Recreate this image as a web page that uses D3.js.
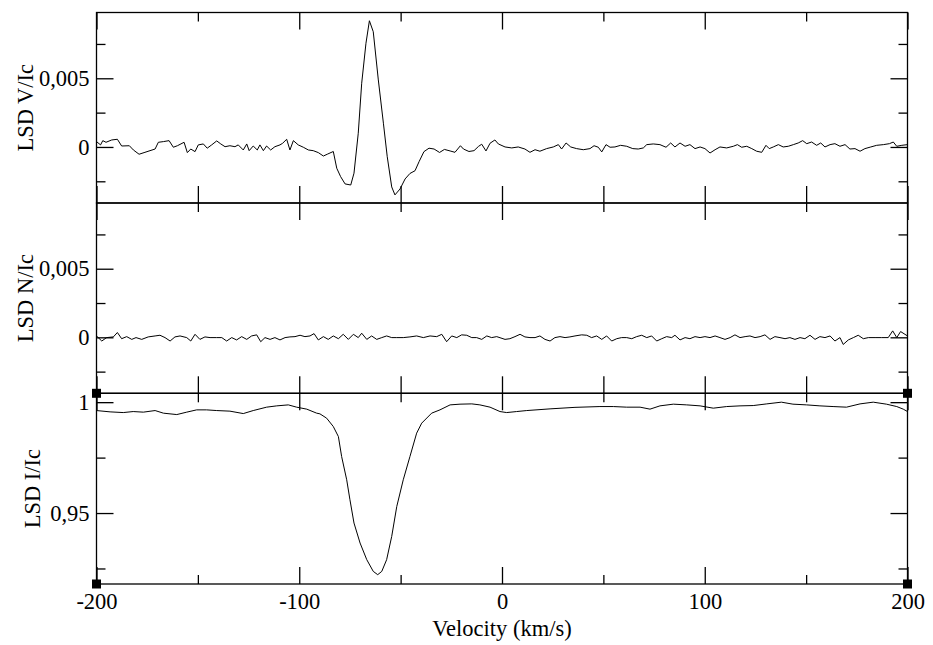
<!DOCTYPE html>
<html>
<head>
<meta charset="utf-8">
<script src="https://cdn.jsdelivr.net/npm/d3@7"></script>
<style>
body { margin: 0; background: #fff; }
text { font-family: "Liberation Serif", "Times New Roman", serif; }
</style>
</head>
<body>
<svg id="chart" width="933" height="645"></svg>
<script>
// LSD profiles, [velocity (km/s), value]
const vProfile = [
  [-200, 0.00039], [-198.0, 0.00015], [-196.9, 0.00046], [-195.3, 0.00034], [-192.5, 0.00051], [-189.7, 0.00056],
  [-187.6, 0.00007], [-183.8, 0.00009], [-181.8, -0.00022], [-179.0, -0.00053], [-176.1, -0.00039], [-173.6, -0.00027],
  [-171.1, -0.00015], [-169.5, 0.00034], [-167.0, 0.00039], [-164.2, 0.00046], [-162.1, -0.00002], [-160.1, 0.00009],
  [-156.8, 0.00034], [-155.2, -0.00041], [-153.5, -0.00015], [-151.4, -0.00034], [-149.8, 0.00015], [-147.3, 0.00022],
  [-145.4, -0.00009], [-143.2, 0.00015], [-140.7, 0.00044], [-138.7, 0.00022], [-136.6, 0.00002], [-134.2, 0.00009],
  [-131.7, 0.00002], [-130.1, 0.00015], [-127.6, -0.00022], [-125.9, 0.00022], [-124.7, -0.00027], [-122.7, 0.00007],
  [-120.7, -0.00022], [-119.4, 0.00015], [-117.7, -0.00027], [-116.1, 0.00007], [-114.1, -0.00022], [-112.0, 0.00002],
  [-109.5, 0.00015], [-108.2, 0.00027], [-106.2, 0.00056], [-104.6, -0.00022], [-102.9, 0.00046], [-100.5, 0.00015],
  [-98.0, -0.00002], [-95.5, -0.00022], [-93.1, -0.00027], [-90.6, -0.00041], [-88.1, -0.00066], [-86.2, -0.00053],
  [-83.2, -0.00033], [-81.5, -0.00155], [-79.6, -0.00216], [-77.4, -0.00269], [-74.6, -0.00277], [-73.0, -0.00191],
  [-70.9, 0.00100], [-69.2, 0.00464], [-67.1, 0.00755], [-65.4, 0.00919], [-63.5, 0.00839], [-61.0, 0.00488],
  [-58.5, 0.00173], [-56.6, -0.00071], [-54.4, -0.00291], [-52.8, -0.00349], [-50.3, -0.00306], [-47.8, -0.00233],
  [-45.4, -0.00193], [-42.9, -0.00173], [-40.9, -0.00107], [-38.5, -0.00034], [-36.0, -0.00009], [-33.5, -0.00015],
  [-30.8, -0.00040], [-28.4, -0.00018], [-25.6, -0.00029], [-23.2, -0.00039], [-20.5, 0.00009], [-19.0, -0.00015],
  [-16.3, -0.00033], [-13.8, -0.00027], [-11.6, 0.00004], [-10.0, 0.00020], [-7.9, -0.00029], [-5.9, 0.00027],
  [-3.5, 0.00051], [-1.8, 0.00022], [1.5, 0], [4.8, -0.00007], [8.0, 0], [11.3, -0.00015],
  [13.8, -0.00039], [16.3, -0.00020], [18.7, -0.00031], [22.0, -0.00012], [25.3, 0], [27.8, 0.00017],
  [29.4, -0.00015], [31.6, 0.00029], [33.9, 0], [36.8, -0.00012], [40.1, -0.00020], [43.4, -0.00012],
  [45.4, 0.00009], [47.5, -0.00002], [49.2, -0.00036], [51.3, 0.00017], [53.3, -0.00002], [55.7, 0],
  [58.5, 0.00012], [61.5, 0.00005], [64.5, -0.00012], [67.2, -0.00015], [69.7, -0.00007], [71.4, 0.00017],
  [74.6, 0.00022], [77.9, 0.00017], [80.9, -0.00002], [83.2, 0.00029], [85.3, 0], [87.8, 0.00029],
  [90.3, 0.00005], [92.7, 0.00017], [95.2, -0.00012], [97.7, 0], [100.1, -0.00012], [102.6, -0.00044],
  [105.1, -0.00020], [107.5, 0], [110.8, -0.00007], [114.1, 0.00005], [116.1, 0.00017], [118.2, -0.00002],
  [120.7, 0.00005], [123.2, -0.00012], [125.6, -0.00031], [128.1, -0.00039], [130.2, 0.00012], [131.8, -0.00012],
  [133.8, 0], [136.3, 0.00017], [138.7, 0], [141.2, 0.00005], [143.7, 0.00017], [146.1, 0.00029],
  [148.3, 0.00046], [150.3, 0.00024], [152.7, 0.00036], [155.2, 0.00012], [157.2, 0.00029], [159.3, 0],
  [161.8, 0.00017], [164.2, 0.00024], [166.7, 0.00005], [169.2, 0.00017], [171.6, -0.00015], [174.1, -0.00012],
  [176.6, -0.00031], [179.0, -0.00012], [181.9, 0], [184.8, 0.00012], [188.1, 0.00017], [191.1, 0.00024],
  [193.0, 0.00036], [194.7, 0.00005], [197.2, 0.00012], [200, 0.00017]
];

const nProfile = [
  [-200, 0.00010], [-197.4, -0.00027], [-195.0, -0.00002], [-191.7, 0.00003], [-189.7, 0.00035], [-187.6, -0.00010],
  [-185.1, 0.00005], [-182.6, -0.00015], [-180.5, -0.00002], [-177.7, -0.00015], [-174.5, 0.00003], [-171.1, 0.00010],
  [-168.7, 0.00015], [-166.2, -0.00002], [-163.7, -0.00027], [-161.3, 0.00003], [-158.8, 0.00010], [-155.5, -0.00002],
  [-153.5, -0.00027], [-151.4, 0.00022], [-149.0, -0.00015], [-146.5, 0.00003], [-144.0, -0.00002], [-140.7, -0.00002],
  [-138.2, -0.00002], [-135.8, -0.00027], [-133.3, -0.00002], [-130.9, -0.00019], [-128.4, 0.00005], [-125.9, -0.00015],
  [-123.5, 0.00010], [-121.0, 0.00018], [-119.0, -0.00032], [-116.9, -0.00002], [-114.4, -0.00015], [-112.0, -0.00002],
  [-109.5, -0.00019], [-107.0, -0.00002], [-104.6, 0.00003], [-102.1, 0.00005], [-99.6, 0.00015], [-97.2, 0.00005],
  [-94.7, 0.00010], [-92.7, 0.00027], [-90.6, -0.00019], [-88.1, 0.00005], [-85.7, -0.00015], [-83.2, 0.00010],
  [-80.7, -0.00010], [-78.3, 0.00022], [-75.8, -0.00015], [-73.3, 0.00022], [-70.9, -0.00002], [-69.2, 0.00030],
  [-66.7, -0.00015], [-64.3, 0.00010], [-61.8, -0.00015], [-59.3, -0.00002], [-56.9, 0.00010], [-54.4, -0.00002],
  [-51.9, -0.00002], [-48.7, -0.00002], [-45.4, 0.00003], [-42.1, 0.00010], [-38.8, -0.00002], [-35.5, 0.00010],
  [-32.2, 0.00005], [-29.7, 0.00022], [-27.3, -0.00032], [-24.8, 0.00010], [-22.3, -0.00002], [-19.9, 0.00018],
  [-17.4, 0.00015], [-14.9, -0.00002], [-12.5, -0.00002], [-10.0, -0.00015], [-7.5, 0.00010], [-5.1, -0.00002],
  [-2.6, 0.00005], [1.5, -0.00015], [3.9, -0.00010], [6.4, 0.00005], [8.9, 0.00022], [11.3, 0.00003],
  [13.8, -0.00002], [16.3, -0.00002], [18.7, 0.00010], [21.2, -0.00015], [23.7, -0.00027], [26.1, -0.00002],
  [28.6, 0.00005], [31.1, -0.00002], [33.5, 0.00003], [36.0, 0.00010], [39.3, 0.00018], [41.8, 0.00015],
  [44.2, -0.00002], [46.7, 0.00010], [49.2, -0.00015], [51.6, 0.00010], [54.1, -0.00027], [56.6, -0.00010],
  [59.0, -0.00002], [61.5, -0.00002], [64.0, -0.00010], [66.4, 0.00005], [68.9, 0.00015], [71.4, -0.00002],
  [73.8, 0.00010], [76.3, -0.00027], [78.8, -0.00010], [81.2, 0.00005], [83.7, -0.00002], [85.3, 0.00015],
  [87.8, -0.00019], [90.3, -0.00002], [92.7, -0.00010], [95.2, 0.00005], [97.7, -0.00002], [100.1, 0.00005],
  [102.6, -0.00002], [105.1, 0.00010], [107.5, -0.00002], [110.0, -0.00015], [112.5, -0.00002], [114.9, 0.00018],
  [117.4, -0.00002], [119.9, 0.00005], [122.3, 0.00010], [124.8, -0.00002], [127.3, 0.00005], [129.7, 0.00018],
  [132.2, -0.00015], [134.6, 0.00005], [137.1, -0.00002], [139.6, -0.00010], [142.0, -0.00002], [144.5, -0.00015],
  [147.0, -0.00002], [149.4, -0.00010], [151.9, 0.00015], [154.4, -0.00015], [156.8, 0.00005], [159.3, -0.00002],
  [161.8, 0.00010], [164.2, -0.00027], [166.7, -0.00002], [168.3, -0.00052], [170.8, -0.00019], [173.3, -0.00002],
  [175.7, 0.00015], [178.2, -0.00010], [180.7, -0.00002], [184.0, -0.00002], [187.3, -0.00002], [190.5, -0.00002],
  [192.7, 0.00047], [194.7, -0.00002], [196.6, 0.00042], [200, 0.00010]
];

const iProfile = [
  [-200, 0.99622], [-193.3, 0.99563], [-186.8, 0.99531], [-181.9, 0.99577], [-176.9, 0.99550], [-171.1, 0.99622],
  [-167.0, 0.99504], [-160.4, 0.99441], [-155.5, 0.99550], [-150.6, 0.99653], [-145.7, 0.99653], [-140.7, 0.99622],
  [-134.2, 0.99595], [-127.6, 0.99486], [-122.7, 0.99622], [-116.1, 0.99775], [-111.1, 0.99833], [-105.4, 0.99878],
  [-101.3, 0.99775], [-96.3, 0.99685], [-91.4, 0.99504], [-89.8, 0.99473], [-86.5, 0.99279], [-83.2, 0.98901],
  [-80.7, 0.98450], [-79.1, 0.97549], [-76.6, 0.96500], [-75.0, 0.95599], [-73.0, 0.94549], [-70.0, 0.93648],
  [-66.7, 0.92896], [-63.5, 0.92369], [-61.3, 0.92220], [-59.3, 0.92369], [-56.9, 0.92896], [-54.4, 0.93945],
  [-51.9, 0.95297], [-48.7, 0.96500], [-45.4, 0.97549], [-42.1, 0.98603], [-39.6, 0.99054], [-34.7, 0.99504],
  [-30.6, 0.99653], [-25.6, 0.99878], [-20.7, 0.99910], [-14.9, 0.99923], [-10.9, 0.99878], [-5.9, 0.99775],
  [-1.0, 0.99577], [2.3, 0.99531], [7.2, 0.99577], [12.2, 0.99622], [23.7, 0.99698], [36.0, 0.99766],
  [48.3, 0.99802], [54.9, 0.99802], [61.5, 0.99775], [68.1, 0.99775], [73.0, 0.99685], [77.9, 0.99833],
  [84.5, 0.99910], [91.1, 0.99878], [97.7, 0.99833], [104.2, 0.99730], [110.8, 0.99802], [117.4, 0.99833],
  [123.9, 0.99847], [130.6, 0.99923], [137.8, 1.00000], [143.5, 0.99910], [150.2, 0.99878], [156.8, 0.99833],
  [163.3, 0.99802], [169.9, 0.99775], [176.6, 0.99923], [183.1, 1.00000], [189.6, 0.99910], [194.7, 0.99802],
  [197.9, 0.99685], [200, 0.99577]
];

const velTicks = [-200, -100, 0, 100, 200];
const velMinor = [-150, -50, 50, 150];
const stokesTicks = [0, 0.005];
const stokesMinor = [-0.0025, 0.0025, 0.0075];
const intTicks = [0.95, 1];
const intMinor = [0.925, 0.975];

const svg = d3.select('#chart');
const width = +svg.attr('width');

const left = 96.5, right = 907.5;
const majorLen = 17, minorLen = 9;
const fontSize = 22.5;

const x = d3.scaleLinear().domain([-200, 200]).range([left, right]);

// comma as decimal separator, like the original plot
const fmt = d => String(d).replace('.', ',');

const panels = [
  {label: 'LSD V/Ic', data: vProfile, top: 12.5, bottom: 203, domain: [-0.00408, 0.00979], major: stokesTicks, minor: stokesMinor, labelX: 33},
  {label: 'LSD N/Ic', data: nProfile, top: 203, bottom: 393.3, domain: [-0.00408, 0.00979], major: stokesTicks, minor: stokesMinor, labelX: 33},
  {label: 'LSD I/Ic', data: iProfile, top: 393.3, bottom: 584, domain: [0.918, 1.004], major: intTicks, minor: intMinor, labelX: 40}
];

const styleAxis = g => {
  g.select('.domain').remove();
  g.selectAll('line').attr('stroke', '#000').attr('stroke-width', 1.3);
  g.selectAll('text').attr('fill', '#000')
    .attr('font-family', '"Liberation Serif", "Times New Roman", serif')
    .attr('font-size', fontSize);
};

panels.forEach((p, i) => {
  const y = d3.scaleLinear().domain(p.domain).range([p.bottom, p.top]);
  const g = svg.append('g');
  const last = i === panels.length - 1;

  // y ticks on both sides, pointing in
  g.append('g').attr('transform', `translate(${left},0)`)
    .call(d3.axisLeft(y).tickValues(p.major).tickSizeInner(-majorLen).tickSizeOuter(0).tickPadding(7).tickFormat(fmt))
    .call(styleAxis);
  g.append('g').attr('transform', `translate(${left},0)`)
    .call(d3.axisLeft(y).tickValues(p.minor).tickSizeInner(-minorLen).tickSizeOuter(0).tickFormat(''))
    .call(styleAxis);
  g.append('g').attr('transform', `translate(${right},0)`)
    .call(d3.axisRight(y).tickValues(p.major).tickSizeInner(-majorLen).tickSizeOuter(0).tickFormat(''))
    .call(styleAxis);
  g.append('g').attr('transform', `translate(${right},0)`)
    .call(d3.axisRight(y).tickValues(p.minor).tickSizeInner(-minorLen).tickSizeOuter(0).tickFormat(''))
    .call(styleAxis);

  // x ticks top and bottom
  g.append('g').attr('transform', `translate(0,${p.top})`)
    .call(d3.axisTop(x).tickValues(velTicks).tickSizeInner(-majorLen).tickSizeOuter(0).tickFormat(''))
    .call(styleAxis);
  g.append('g').attr('transform', `translate(0,${p.top})`)
    .call(d3.axisTop(x).tickValues(velMinor).tickSizeInner(-minorLen).tickSizeOuter(0).tickFormat(''))
    .call(styleAxis);
  g.append('g').attr('transform', `translate(0,${p.bottom})`)
    .call(d3.axisBottom(x).tickValues(velTicks).tickSizeInner(-majorLen).tickSizeOuter(0).tickPadding(9)
      .tickFormat(last ? d => d : ''))
    .call(styleAxis);
  g.append('g').attr('transform', `translate(0,${p.bottom})`)
    .call(d3.axisBottom(x).tickValues(velMinor).tickSizeInner(last ? -minorLen : -majorLen).tickSizeOuter(0).tickFormat(''))
    .call(styleAxis);

  g.append('rect')
    .attr('x', left).attr('y', p.top)
    .attr('width', right - left).attr('height', p.bottom - p.top)
    .attr('fill', 'none').attr('stroke', '#000').attr('stroke-width', 1.3);

  g.append('path')
    .datum(p.data)
    .attr('fill', 'none')
    .attr('stroke', '#000')
    .attr('stroke-width', 1)
    .attr('d', d3.line().x(d => x(d[0])).y(d => y(d[1])));

  g.append('text')
    .attr('transform', `translate(${p.labelX},${(p.top + p.bottom) / 2}) rotate(-90)`)
    .attr('text-anchor', 'middle')
    .attr('font-size', fontSize)
    .text(p.label);

  // the little black selection handles xmgrace leaves on the active graph
  if (last) {
    [[left, p.top], [left, p.bottom], [right, p.top], [right, p.bottom]].forEach(c => {
      g.append('rect')
        .attr('x', c[0] - 4.5).attr('y', c[1] - 4.5)
        .attr('width', 9).attr('height', 9)
        .attr('fill', '#000');
    });
  }
});

svg.append('text')
  .attr('x', (left + right) / 2)
  .attr('y', 636)
  .attr('text-anchor', 'middle')
  .attr('font-size', fontSize)
  .text('Velocity (km/s)');
</script>
</body>
</html>
